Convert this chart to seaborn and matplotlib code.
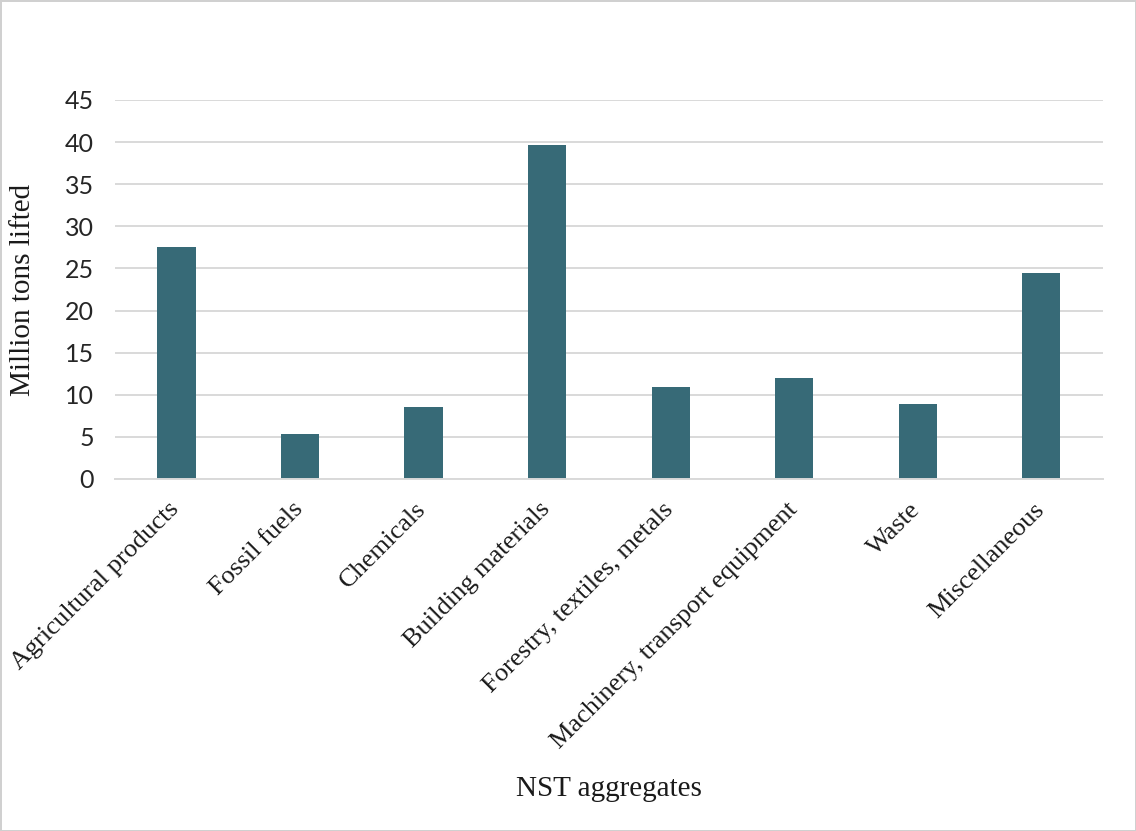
import matplotlib
matplotlib.use("Agg")
import matplotlib.pyplot as plt
import matplotlib.transforms as mtransforms
import seaborn as sns
import pandas as pd

# NST aggregate groups and tonnage lifted (million tons)
categories = [
    "Agricultural products",
    "Fossil fuels",
    "Chemicals",
    "Building materials",
    "Forestry, textiles, metals",
    "Machinery, transport equipment",
    "Waste",
    "Miscellaneous",
]
tons_lifted = [27.5, 5.4, 8.5, 39.7, 10.9, 12.0, 8.9, 24.5]
y_ticks = [0, 5, 10, 15, 20, 25, 30, 35, 40, 45]

BAR_COLOR = "#376A77"
GRID_COLOR = "#D9D9D9"
TEXT_COLOR = "#1A1A1A"
SERIF = "Liberation Serif"
SANS = "Lato"

sns.set_theme(style="white")

df = pd.DataFrame({"group": categories, "tons": tons_lifted})

fig = plt.figure(figsize=(11.36, 8.31), dpi=100)
fig.patch.set_facecolor("white")
fig.patch.set_edgecolor("#D0D0D0")
fig.patch.set_linewidth(2)

ax = fig.add_axes([0.101, 0.4236, 0.870, 0.4561])
sns.barplot(data=df, x="group", y="tons", color=BAR_COLOR, width=0.31,
            saturation=1, edgecolor="none", ax=ax)

ax.set_xlim(-0.5, len(categories) - 0.5)
ax.set_ylim(0, 45)
ax.set_yticks(y_ticks)
ax.set_yticklabels([str(t) for t in y_ticks], fontfamily=SANS, fontsize=18,
                   color="#262626")
ax.tick_params(axis="y", length=0, pad=15)
ax.tick_params(axis="x", length=0, pad=14)

ax.yaxis.grid(True, color=GRID_COLOR, linewidth=1.4)
ax.set_axisbelow(True)
for side in ["left", "right", "top"]:
    ax.spines[side].set_visible(False)
ax.spines["bottom"].set_color(GRID_COLOR)
ax.spines["bottom"].set_linewidth(1.4)

ax.set_xticks(range(len(categories)))
ax.set_xticklabels(categories, rotation=45, ha="right", va="top",
                   rotation_mode="anchor", fontfamily=SERIF, fontsize=19,
                   color=TEXT_COLOR)
shift = mtransforms.ScaledTranslation(-6 / 72, 0, fig.dpi_scale_trans)
for lbl in ax.get_xticklabels():
    lbl.set_transform(lbl.get_transform() + shift)

ax.set_ylabel("Million tons lifted", fontfamily=SERIF, fontsize=21,
              color=TEXT_COLOR)
ax.yaxis.set_label_coords(-0.080, 0.5)
ax.set_xlabel("NST aggregates", fontfamily=SERIF, fontsize=21,
              color=TEXT_COLOR)
ax.xaxis.set_label_coords(0.5, -0.784)

fig.savefig("out.png", dpi=100)
